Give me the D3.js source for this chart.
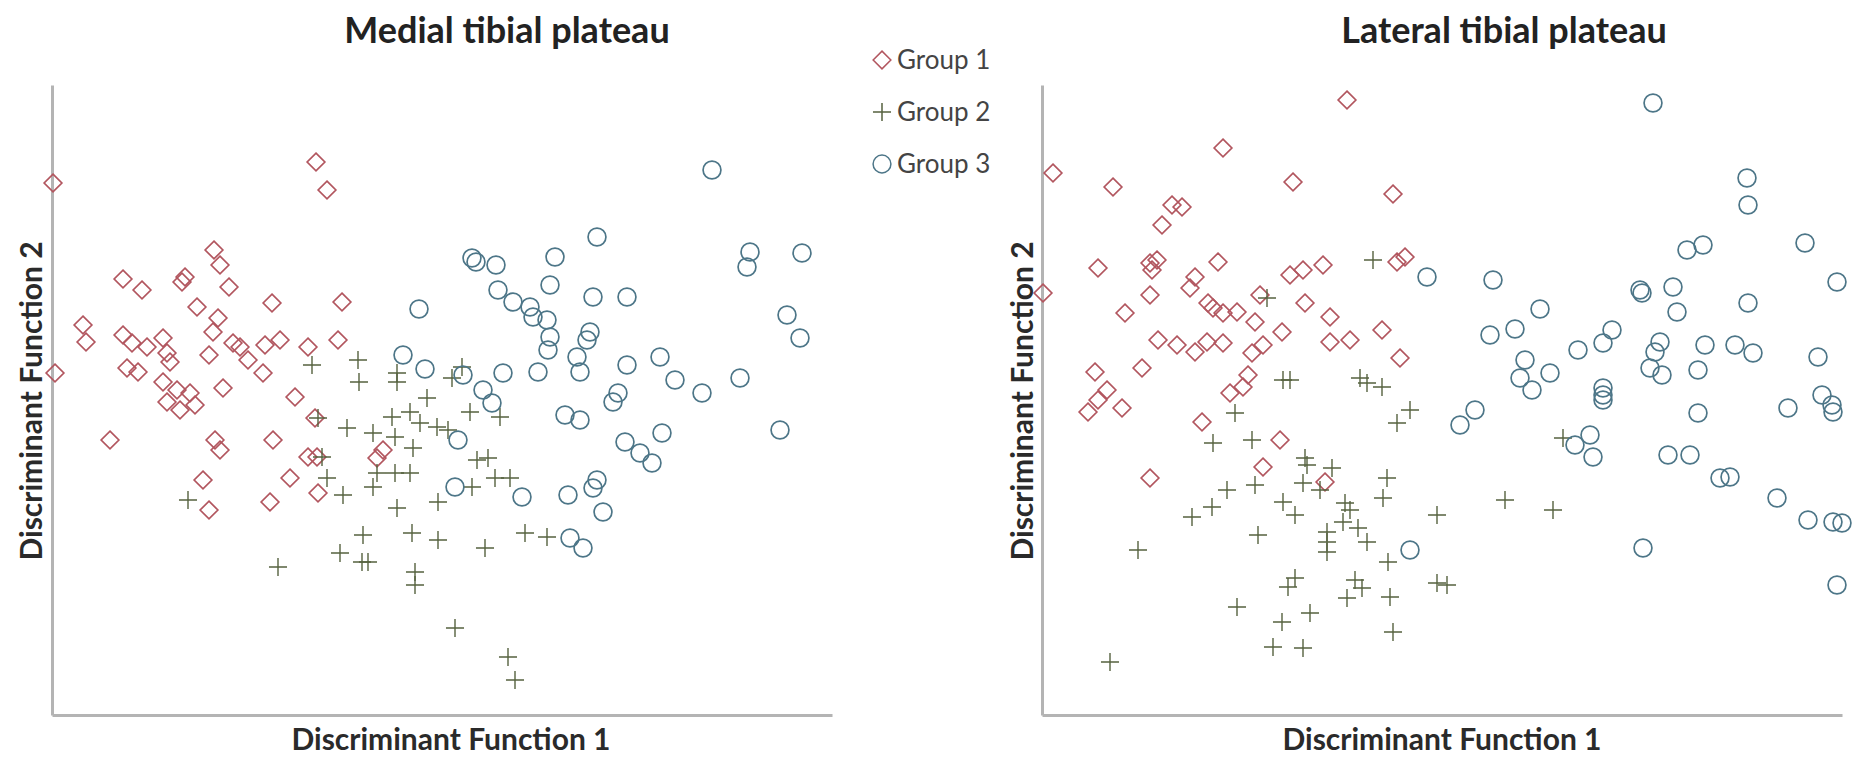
<!DOCTYPE html>
<meta charset="utf-8">
<script src="https://d3js.org/d3.v7.min.js"></script>
<style>
  body { margin: 0; background: #fff; }
  text { font-family: Lato, "Open Sans", sans-serif; }
  .domain { stroke: #b4b4b4; stroke-width: 3px; }
</style>
<body>
<div id="chart"></div>
<script>

// discriminant scores (arbitrary units, origin at the axis corner)
var medialG1 = [[0.01,5.32],[2.64,5.53],[2.75,5.25],[1.62,4.65],[1.68,4.50],[1.77,4.28],[0.71,4.36],[0.90,4.25],
  [1.33,4.38],[1.30,4.33],[1.45,4.08],[2.20,4.12],[2.90,4.13],[0.31,3.90],[0.34,3.73],[0.71,3.80],[0.80,3.72],
  [0.95,3.68],[1.11,3.77],[1.15,3.62],[1.18,3.53],[1.66,3.97],[1.61,3.83],[1.57,3.60],[1.81,3.72],[1.88,3.68],
  [1.96,3.55],[2.11,3.42],[2.13,3.70],[2.28,3.75],[2.56,3.68],[2.86,3.75],[0.03,3.42],[0.75,3.47],[0.86,3.43],
  [1.11,3.33],[1.25,3.25],[1.38,3.22],[1.71,3.27],[2.43,3.18],[1.15,3.13],[1.28,3.05],[1.43,3.10],[2.63,2.97],
  [0.58,2.75],[1.63,2.75],[1.68,2.65],[2.21,2.75],[2.56,2.58],[2.65,2.58],[3.31,2.65],[3.25,2.57],[1.51,2.35],
  [2.38,2.37],[2.66,2.22],[1.57,2.05],[2.18,2.13]];

var medialG2 = [[2.60,3.50],[3.06,3.55],[3.07,3.33],[3.45,3.42],[3.45,3.33],[2.66,2.97],[2.70,2.58],[3.58,3.03],
  [3.40,2.98],[2.95,2.87],[3.21,2.82],[3.43,2.78],[3.61,2.67],[2.75,2.37],[3.25,2.42],[3.43,2.42],[3.21,2.28],
  [2.91,2.20],[3.45,2.07],[1.36,2.15],[3.11,1.80],[3.60,1.82],[2.88,1.62],[3.10,1.53],[3.16,1.53],[2.26,1.48],
  [3.63,1.43],[3.63,1.30],[3.75,3.17],[4.18,3.03],[3.68,2.92],[3.85,2.88],[3.96,2.85],[4.48,2.98],[4.25,2.55],
  [4.36,2.57],[3.58,2.42],[4.20,2.28],[4.43,2.37],[4.58,2.37],[3.86,2.13],[3.86,1.75],[4.33,1.67],[4.73,1.82],
  [4.95,1.78],[4.03,0.87],[4.56,0.58],[4.63,0.35],[4.10,3.48],[4.00,3.37]];

var medialG3 = [[3.67,4.06],[3.51,3.60],[3.73,3.46],[6.60,5.45],[5.45,4.78],[4.20,4.57],[4.24,4.53],[4.44,4.50],
  [5.03,4.58],[6.98,4.63],[6.95,4.48],[7.50,4.62],[4.98,4.30],[4.46,4.25],[4.61,4.13],[4.78,4.08],[4.81,3.98],
  [4.95,3.95],[4.98,3.78],[4.96,3.65],[5.41,4.18],[5.75,4.18],[5.38,3.83],[5.35,3.75],[5.25,3.58],[5.28,3.43],
  [7.35,4.00],[7.48,3.77],[4.11,3.40],[4.51,3.42],[4.86,3.43],[5.75,3.50],[6.08,3.58],[6.23,3.35],[6.50,3.22],
  [6.88,3.37],[5.66,3.22],[4.31,3.25],[4.40,3.12],[4.06,2.75],[4.03,2.28],[4.70,2.18],[5.13,3.00],[5.28,2.95],
  [5.61,3.13],[5.73,2.73],[5.88,2.62],[6.00,2.52],[6.10,2.82],[7.28,2.85],[5.16,2.20],[5.45,2.35],[5.41,2.27],
  [5.51,2.03],[5.18,1.77],[5.31,1.67]];

var lateralG1 = [[0.11,5.42],[0.01,4.22],[3.05,6.15],[1.81,5.67],[0.71,5.28],[2.51,5.33],[3.51,5.21],[1.30,5.10],
  [1.40,5.08],[1.20,4.90],[0.56,4.47],[1.15,4.55],[1.10,4.45],[1.08,4.52],[1.76,4.53],[1.53,4.38],[1.48,4.27],
  [1.08,4.20],[0.83,4.02],[1.66,4.12],[1.71,4.07],[1.81,4.02],[1.95,4.03],[2.18,4.20],[2.13,3.93],[2.48,4.40],
  [2.61,4.45],[2.81,4.50],[2.63,4.12],[2.88,3.98],[3.55,4.53],[3.63,4.58],[1.16,3.75],[1.35,3.70],[1.53,3.63],
  [1.65,3.73],[1.81,3.72],[2.40,3.83],[2.88,3.73],[3.08,3.75],[3.40,3.85],[3.58,3.57],[0.53,3.43],[1.00,3.47],
  [0.65,3.25],[2.10,3.62],[2.21,3.70],[2.06,3.40],[1.88,3.22],[0.46,3.03],[0.56,3.15],[0.80,3.07],[1.60,2.93],
  [2.01,3.28],[2.38,2.75],[2.21,2.48],[1.08,2.37],[2.83,2.33]];

var lateralG2 = [[2.25,4.17],[3.31,4.55],[2.41,3.35],[2.48,3.35],[3.18,3.37],[3.25,3.32],[3.40,3.28],[1.93,3.02],
  [3.68,3.05],[3.55,2.92],[1.71,2.72],[2.10,2.75],[2.63,2.57],[2.65,2.50],[2.90,2.47],[2.61,2.32],[3.45,2.37],
  [3.41,2.17],[1.85,2.25],[2.13,2.30],[2.78,2.25],[1.70,2.08],[1.50,1.98],[2.41,2.13],[2.53,2.00],[3.03,2.12],
  [3.08,2.05],[3.01,1.93],[3.16,1.87],[2.16,1.80],[2.85,1.83],[2.85,1.73],[2.85,1.63],[3.25,1.73],[3.46,1.53],
  [3.95,2.00],[0.96,1.65],[2.53,1.37],[2.46,1.28],[3.13,1.35],[3.20,1.27],[3.05,1.17],[3.48,1.18],[3.95,1.32],
  [4.05,1.30],[1.95,1.08],[2.68,1.02],[2.40,0.93],[3.51,0.83],[2.31,0.68],[2.61,0.67],[0.68,0.53],[5.21,2.77],
  [4.63,2.15],[5.11,2.05]];

var lateralG3 = [[3.85,4.38],[6.11,6.12],[7.05,5.37],[7.06,5.10],[6.45,4.65],[6.61,4.70],[7.63,4.72],[4.51,4.35],
  [6.00,4.22],[5.98,4.25],[6.31,4.28],[6.35,4.03],[7.95,4.33],[7.06,4.12],[4.98,4.06],[4.73,3.86],[4.48,3.80],
  [5.70,3.85],[5.61,3.72],[5.36,3.65],[4.83,3.55],[5.08,3.42],[4.78,3.37],[4.90,3.25],[6.18,3.73],[6.13,3.63],
  [6.08,3.47],[6.20,3.40],[6.63,3.70],[6.93,3.70],[7.11,3.62],[6.56,3.45],[7.76,3.58],[5.61,3.27],[5.61,3.20],
  [5.61,3.15],[7.80,3.20],[4.33,3.05],[4.18,2.90],[5.48,2.80],[5.33,2.70],[5.51,2.58],[6.26,2.60],[6.48,2.60],
  [6.56,3.02],[6.78,2.37],[6.88,2.38],[7.35,2.17],[7.46,3.07],[7.91,3.03],[7.90,3.10],[7.66,1.95],[7.91,1.93],
  [8.00,1.92],[6.01,1.67],[7.95,1.30],[3.68,1.65]];

var groupNames = ["Group 1", "Group 2", "Group 3"];
var titles = ["Medial tibial plateau", "Lateral tibial plateau"];
var xLabel = "Discriminant Function 1";
var yLabel = "Discriminant Function 2";

var width = 1862, height = 758;
var colours = ["#b2565f", "#56623f", "#4d7688"];
var symbols = [
  d3.symbol().type(d3.symbolDiamond2).size(200),
  d3.symbol().type(d3.symbolPlus).size(108),
  d3.symbol().type(d3.symbolCircle).size(250)
];

var svg = d3.select("#chart").append("svg")
    .attr("width", width)
    .attr("height", height);

var panels = [
  { title: titles[0], groups: [medialG1, medialG2, medialG3], left: 52, right: 832, xMax: 7.8, titleX: 507, yLabX: 42, xLabX: 451 },
  { title: titles[1], groups: [lateralG1, lateralG2, lateralG3], left: 1042, right: 1842, xMax: 8.0, titleX: 1504, yLabX: 1033, xLabX: 1442 }
];

var plotTop = 85, plotBottom = 715;

panels.forEach(function (p) {
  var x = d3.scaleLinear().domain([0, p.xMax]).range([p.left, p.right]);
  var y = d3.scaleLinear().domain([0, 6.3]).range([plotBottom, plotTop]);

  svg.append("g")
      .attr("transform", "translate(0," + plotBottom + ")")
      .call(d3.axisBottom(x).ticks(0).tickSizeOuter(0))
      .selectAll("text").remove();
  svg.append("g")
      .attr("transform", "translate(" + p.left + ",0)")
      .call(d3.axisLeft(y).ticks(0).tickSizeOuter(0))
      .selectAll("text").remove();

  p.groups.forEach(function (pts, gi) {
    svg.append("g").selectAll("path")
      .data(pts)
      .join("path")
        .attr("d", symbols[gi])
        .attr("transform", d => "translate(" + x(d[0]) + "," + y(d[1]) + ")")
        .attr("fill", "none")
        .attr("stroke", colours[gi])
        .attr("stroke-width", gi === 1 ? 1.4 : 1.7);
  });

  svg.append("text")
      .attr("x", p.titleX).attr("y", 43)
      .attr("text-anchor", "middle")
      .attr("font-size", 36).attr("font-weight", "bold")
      .attr("fill", "#222")
      .text(p.title);

  svg.append("text")
      .attr("x", p.xLabX).attr("y", 750)
      .attr("text-anchor", "middle")
      .attr("font-size", 30).attr("font-weight", "bold")
      .attr("fill", "#2a2a2a")
      .text(xLabel);

  svg.append("text")
      .attr("transform", "translate(" + p.yLabX + ",401) rotate(-90)")
      .attr("text-anchor", "middle")
      .attr("font-size", 30).attr("font-weight", "bold")
      .attr("fill", "#2a2a2a")
      .text(yLabel);
});

// legend
var legend = svg.append("g").attr("transform", "translate(882,60)");
groupNames.forEach(function (name, i) {
  var row = legend.append("g").attr("transform", "translate(0," + (i * 52) + ")");
  row.append("path")
      .attr("d", symbols[i])
      .attr("fill", "none")
      .attr("stroke", colours[i])
      .attr("stroke-width", 1.5);
  row.append("text")
      .attr("x", 15).attr("y", 9)
      .attr("font-size", 26)
      .attr("fill", "#444")
      .text(name);
});

</script>
</body>
